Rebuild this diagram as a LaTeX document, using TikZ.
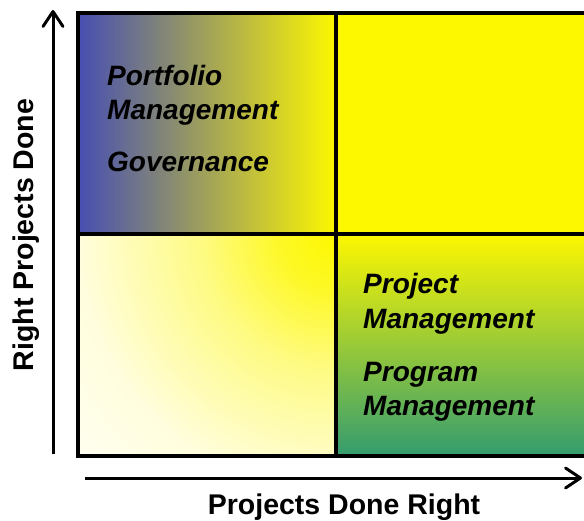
\documentclass[tikz,border=0pt]{standalone}
\usepackage{fontspec}
\setmainfont{Liberation Sans}
\usetikzlibrary{arrows.meta}

\definecolor{qblue}{RGB}{70,78,178}
\definecolor{qyellow}{RGB}{253,247,0}
\definecolor{qgreen}{RGB}{52,156,112}
\definecolor{qcream}{RGB}{255,254,240}

% soft yellow glow, fading out towards the rim
\pgfdeclareradialshading{glow}{\pgfpoint{0bp}{0bp}}{%
  color(0bp)=(qyellow);
  color(4bp)=(qyellow!85!qcream);
  color(10bp)=(qyellow!45!qcream);
  color(19bp)=(qyellow!8!qcream);
  color(25bp)=(qcream);
  color(50bp)=(qcream)}

\tikzset{
  gridline/.style={draw=black, line width=3.5pt},
  axisline/.style={line width=3pt, -{Straight Barb[length=15pt,width=20pt,line cap=round,line join=round]}},
  axislabel/.style={font=\fontsize{28.5}{34}\selectfont\bfseries, inner sep=0pt},
  quadtext/.style={font=\fontsize{28}{34}\selectfont\bfseries\itshape, inner sep=0pt, anchor=base west},
}

\begin{document}
\begin{tikzpicture}[x=1pt,y=1pt]
  \useasboundingbox (0,0) rectangle (584,520);

  % centre corner of the grid
  \coordinate (gm) at (336,286);

  % upper left: blue to yellow, left to right
  \shade[left color=qblue, right color=qyellow] (78,286) rectangle (336,507);
  % upper right: plain yellow
  \fill[qyellow] (336,286) rectangle (600,507);
  % lower right: yellow to green, top to bottom
  \shade[top color=qyellow, bottom color=qgreen] (336,64) rectangle (600,286);
  % lower left: yellow glow from the centre corner
  \begin{scope}
    \clip (78,64) rectangle (336,286);
    \shade[shading=glow] (gm) circle (340);
  \end{scope}

  % grid lines
  \draw[gridline] (600,507) -- (78,507) -- (78,64) -- (600,64);
  \draw[gridline] (336,507) -- (336,64);
  \draw[gridline] (78,286) -- (600,286);

  % axes
  \coordinate (yfoot) at (53,66);
  \coordinate (ytip) at (53,510);
  \coordinate (xfoot) at (85,42);
  \coordinate (xtip) at (582,42);
  \draw[axisline] (yfoot) -- (ytip);
  \draw[axisline] (xfoot) -- (xtip);

  % axis labels
  \node[axislabel, anchor=base] (xlab) at (344,6) {Projects Done Right};
  \node[axislabel, anchor=base, rotate=90] (ylab) at (34,285) {Right Projects Done};

  % quadrant texts
  \node[quadtext] (pf1) at (107,434) {Portfolio};
  \node[quadtext] (pf2) at (107,400) {Management};
  \node[quadtext] (gov) at (107,348) {Governance};

  \node[quadtext] (pj1) at (363,226) {Project};
  \node[quadtext] (pj2) at (363,191) {Management};
  \node[quadtext] (pg1) at (363,138) {Program};
  \node[quadtext] (pg2) at (363,105) {Management};
\end{tikzpicture}
\end{document}
